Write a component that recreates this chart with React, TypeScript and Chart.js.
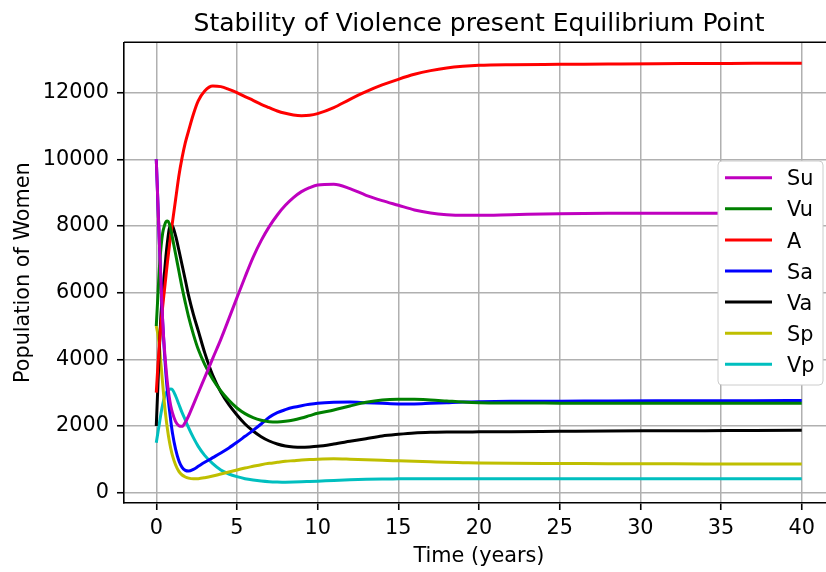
import React, { useEffect, useRef } from "react";
import { Chart, registerables } from "chart.js";

Chart.register(...registerables);

// ---------- data ----------
const TIME = [
  0, 0.1, 0.2, 0.3, 0.4, 0.5, 0.6, 0.7, 0.8, 0.9, 1.0, 1.2, 1.4, 1.6, 1.8, 2.0, 2.3, 2.6, 3.0, 3.5,
  4, 4.5, 5, 5.5, 6, 6.5, 7, 7.5, 8, 8.5, 9, 9.5, 10, 11, 12, 13, 14, 15, 16, 17,
  18, 19, 20, 22, 25, 28, 31, 34, 37, 40,
];

const SU = [
  10000, 8700, 7400, 6200, 5120, 4350, 3750, 3250, 2880, 2600, 2400, 2130, 2010, 1990, 2110, 2300, 2640, 2990, 3450, 4030,
  4600, 5220, 5850, 6470, 7060, 7560, 7980, 8330, 8620, 8850, 9030, 9150, 9230, 9250, 9120, 8920, 8760, 8620, 8480, 8390,
  8340, 8320, 8320, 8340, 8370, 8380, 8380, 8380, 8380, 8380,
];

const VU = [
  5000, 5900, 6800, 7400, 7800, 8000, 8130, 8150, 8080, 7900, 7650, 7150, 6650, 6150, 5700, 5280, 4750, 4300, 3850, 3400,
  3050, 2770, 2540, 2370, 2250, 2170, 2130, 2120, 2140, 2180, 2240, 2310, 2380, 2480, 2600, 2710, 2780, 2800, 2800, 2780,
  2750, 2720, 2700, 2690, 2685, 2680, 2680, 2680, 2680, 2680,
];

const A = [
  3000, 3800, 4500, 5100, 5600, 6050, 6500, 6950, 7350, 7750, 8100, 8800, 9500, 10050, 10500, 10850, 11350, 11750, 12050, 12200,
  12180, 12100, 12000, 11880, 11770, 11650, 11550, 11450, 11380, 11330, 11310, 11320, 11370, 11550, 11800, 12030, 12230, 12400, 12550, 12660,
  12740, 12790, 12820, 12840, 12850, 12860, 12870, 12875, 12880, 12885,
];

const SA = [
  10000, 8700, 7400, 6200, 5100, 4250, 3550, 3000, 2550, 2150, 1800, 1300, 960, 760, 670, 650, 700, 790, 910, 1050,
  1190, 1340, 1510, 1690, 1870, 2060, 2260, 2400, 2490, 2560, 2610, 2650, 2680, 2710, 2720, 2700, 2680, 2660, 2660, 2680,
  2700, 2720, 2730, 2740, 2745, 2750, 2755, 2760, 2760, 2765,
];

const VA = [
  2000, 3200, 4400, 5400, 6000, 6550, 7100, 7550, 7900, 8020, 8000, 7700, 7280, 6830, 6380, 5920, 5350, 4860, 4200, 3520,
  3020, 2640, 2330, 2060, 1850, 1680, 1550, 1460, 1400, 1370, 1360, 1370, 1390, 1460, 1540, 1620, 1700, 1750, 1790, 1810,
  1820, 1820, 1825, 1830, 1840, 1850, 1855, 1860, 1865, 1870,
];

const SP = [
  5000, 4750, 4350, 3800, 3250, 2700, 2250, 1880, 1570, 1320, 1120, 830, 640, 530, 470, 435, 415, 420, 450, 500,
  560, 620, 680, 740, 790, 840, 880, 910, 940, 960, 980, 995, 1005, 1015, 1005, 990, 970, 955, 940, 925,
  910, 900, 890, 880, 875, 870, 865, 862, 860, 860,
];

const VP = [
  1500, 1800, 2100, 2400, 2650, 2850, 2980, 3060, 3100, 3110, 3090, 2900, 2650, 2400, 2180, 1950, 1650, 1390, 1120, 870,
  680, 560, 480, 420, 380, 350, 330, 320, 315, 318, 325, 335, 345, 365, 385, 400, 410, 415, 420, 420,
  420, 420, 420, 420, 420, 420, 420, 420, 420, 420,
];

const SERIES_LABELS = ["Su", "Vu", "A", "Sa", "Va", "Sp", "Vp"];
const SERIES_VALUES = [SU, VU, A, SA, VA, SP, VP];
const SERIES_COLORS = ["#bf00bf", "#008000", "#ff0000", "#0000ff", "#000000", "#bfbf00", "#00bfbf"];

const X_TICKS = [0, 5, 10, 15, 20, 25, 30, 35, 40];
const Y_TICKS = [0, 2000, 4000, 6000, 8000, 10000, 12000];

const TITLE = "Stability of Violence present Equilibrium Point";
const X_LABEL = "Time (years)";
const Y_LABEL = "Population of Women";

const FONT = '"DejaVu Sans", "Liberation Sans", sans-serif';

const decorPlugin = {
  id: "decor",
  afterDraw(chart: any) {
    const { ctx, chartArea: ca } = chart;
    ctx.save();
    // top spine
    ctx.strokeStyle = "#000";
    ctx.lineWidth = 1.6;
    ctx.beginPath();
    ctx.moveTo(ca.left, ca.top);
    ctx.lineTo(ca.right, ca.top);
    ctx.stroke();

    const cx = (ca.left + ca.right) / 2;
    ctx.fillStyle = "#000";
    ctx.textAlign = "center";
    ctx.textBaseline = "alphabetic";
    ctx.font = `25px ${FONT}`;
    ctx.fillText(TITLE, cx, 31);

    ctx.font = `20.8px ${FONT}`;
    ctx.fillText(X_LABEL, cx, 562);

    ctx.save();
    ctx.translate(29, (ca.top + ca.bottom) / 2);
    ctx.rotate(-Math.PI / 2);
    ctx.fillText(Y_LABEL, 0, 0);
    ctx.restore();

    // legend (center right)
    const lx = 718, ly = 161, lw = 105, lh = 224, r = 4;
    ctx.beginPath();
    ctx.moveTo(lx + r, ly);
    ctx.lineTo(lx + lw - r, ly);
    ctx.quadraticCurveTo(lx + lw, ly, lx + lw, ly + r);
    ctx.lineTo(lx + lw, ly + lh - r);
    ctx.quadraticCurveTo(lx + lw, ly + lh, lx + lw - r, ly + lh);
    ctx.lineTo(lx + r, ly + lh);
    ctx.quadraticCurveTo(lx, ly + lh, lx, ly + lh - r);
    ctx.lineTo(lx, ly + r);
    ctx.quadraticCurveTo(lx, ly, lx + r, ly);
    ctx.closePath();
    ctx.fillStyle = "#ffffff";
    ctx.fill();
    ctx.strokeStyle = "#cccccc";
    ctx.lineWidth = 1;
    ctx.stroke();

    ctx.textAlign = "left";
    chart.data.datasets.forEach((ds: any, i: number) => {
      const y = 177.7 + i * 31.1;
      ctx.strokeStyle = ds.borderColor;
      ctx.lineWidth = 3;
      ctx.beginPath();
      ctx.moveTo(725, y);
      ctx.lineTo(772, y);
      ctx.stroke();
      ctx.fillStyle = "#000";
      ctx.fillText(ds.label, 787, y + 7.6);
    });
    ctx.restore();
  },
};

export default function App() {
  const canvasRef = useRef<HTMLCanvasElement | null>(null);

  useEffect(() => {
    const canvas = canvasRef.current;
    if (!canvas) return;
    const datasets = SERIES_LABELS.map((label, i) => ({
      label,
      data: TIME.map((t, k) => ({ x: t, y: SERIES_VALUES[i][k] })),
      borderColor: SERIES_COLORS[i],
      backgroundColor: SERIES_COLORS[i],
      borderWidth: 3,
      pointRadius: 0,
      cubicInterpolationMode: "monotone" as const,
      fill: false,
    }));

    const tickFont = { family: FONT, size: 20.8 };

    const chart = new Chart(canvas, {
      type: "line",
      data: { datasets },
      options: {
        animation: false,
        responsive: false,
        devicePixelRatio: 1,
        layout: { padding: { top: 42.3, right: 16, bottom: 0, left: 0 } },
        plugins: {
          legend: { display: false },
          title: { display: false },
          tooltip: { enabled: false },
        },
        scales: {
          x: {
            type: "linear",
            min: -2,
            max: 42,
            afterBuildTicks: (s: any) => {
              s.ticks = X_TICKS.map((v) => ({ value: v }));
            },
            afterFit: (s: any) => {
              s.height = 69;
            },
            grid: { color: "#b0b0b0", lineWidth: 1.5, tickColor: "#000", tickLength: 7, tickWidth: 1.6 },
            border: { display: true, color: "#000", width: 1.6 },
            ticks: {
              color: "#000",
              font: tickFont,
              padding: 6,
              maxRotation: 0,
              autoSkip: false,
              callback: (v: any) => String(v),
            },
          },
          y: {
            type: "linear",
            min: -310,
            max: 13510,
            afterBuildTicks: (s: any) => {
              s.ticks = Y_TICKS.map((v) => ({ value: v }));
            },
            afterFit: (s: any) => {
              s.width = 124;
            },
            grid: { color: "#b0b0b0", lineWidth: 1.5, tickColor: "#000", tickLength: 7, tickWidth: 1.6 },
            border: { display: true, color: "#000", width: 1.6 },
            ticks: {
              color: "#000",
              font: tickFont,
              padding: 8,
              autoSkip: false,
              callback: (v: any) => String(v),
            },
          },
        },
      },
      plugins: [decorPlugin],
    });
    return () => chart.destroy();
  }, []);

  return (
    <div
      style={{
        position: "fixed",
        left: 0,
        top: 0,
        width: 826,
        height: 572,
        overflow: "hidden",
        background: "#fff",
      }}
    >
      <canvas ref={canvasRef} width={850} height={572} style={{ display: "block", width: 850, height: 572 }} />
    </div>
  );
}
